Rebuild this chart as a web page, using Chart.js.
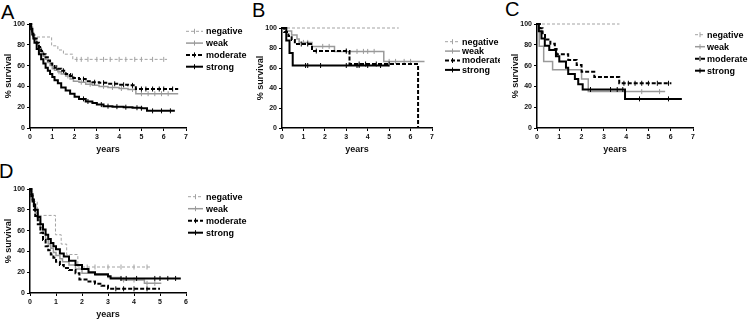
<!DOCTYPE html>
<html>
<head>
<meta charset="utf-8">
<script src="https://cdn.jsdelivr.net/npm/chart.js@4.4.1/dist/chart.umd.min.js"></script>
<style>
  html, body { margin: 0; padding: 0; background: #fff; overflow: hidden; }
  body { width: 751px; height: 319px; position: relative; }
  canvas { position: absolute; }
  .tag { position: absolute; font: 20px "Liberation Sans", Arial, sans-serif; color: #000; line-height: normal; }
</style>
</head>
<body>
<div class="tag" style="left:1px;top:1px">A</div>
<div class="tag" style="left:252px;top:-1px">B</div>
<div class="tag" style="left:505px;top:-2px">C</div>
<div class="tag" style="left:-1px;top:160px">D</div>
<canvas id="chartA" style="left:0px;top:0px" width="250" height="160"></canvas>
<canvas id="chartB" style="left:252px;top:0px" width="248" height="160"></canvas>
<canvas id="chartC" style="left:507px;top:0px" width="244" height="160"></canvas>
<canvas id="chartD" style="left:0px;top:160px" width="250" height="163"></canvas>
<script>
// groups, same order in every panel
const labels = ['negative', 'weak', 'moderate', 'strong'];

// Kaplan-Meier steps: [years, % survival]
// panel A
const A_negative = [[0,100],[0.12,87.5],[0.97,79],[1.25,75],[1.5,71],[1.92,66],[6.15,66]];
const A_weak = [[0,100],[0.05,96],[0.1,92],[0.15,88],[0.2,85],[0.3,81],[0.4,77],[0.5,73],[0.6,69],[0.7,66],[0.8,63],[0.9,60],[1.0,57],[1.1,55.5],[1.25,54],[1.4,52],[1.6,50],[1.8,47],[1.95,45],[2.2,44],[2.5,42],[2.8,41],[3.1,40],[3.5,39],[4.0,38],[4.4,37],[4.75,33],[6.65,33]];
const A_moderate = [[0,100],[0.05,97],[0.1,93],[0.15,89],[0.2,86],[0.3,82],[0.4,78],[0.5,74],[0.6,71],[0.7,68],[0.8,65],[0.9,62],[1.0,59.5],[1.1,58],[1.25,57],[1.4,55],[1.6,52],[1.8,50],[1.95,48],[2.2,47],[2.5,45],[2.8,44],[3.1,43.5],[3.5,42.5],[4.0,41.5],[4.4,41],[4.75,37.5],[6.65,37.5]];
const A_strong = [[0,100],[0.05,95],[0.1,90],[0.15,86],[0.2,82],[0.3,76],[0.4,71],[0.5,66],[0.6,62],[0.7,58],[0.8,55],[0.9,52],[1.0,49],[1.1,46],[1.25,43],[1.4,39],[1.6,36],[1.8,33],[2.0,30],[2.2,28],[2.5,25.5],[2.8,24],[3.0,22.5],[3.3,21],[3.7,20.5],[4.2,20],[4.6,19.5],[5.0,19],[5.25,16.5],[6.5,16.5]];
// censored times
const A_negative_cens = [2.1,2.3,2.6,3.0,3.3,3.6,4.0,4.3,4.7,5.0,5.5,6.0];
const A_weak_cens = [1.3,1.7,2.3,2.7,3.3,3.7,4.1,4.6,5.0,5.3,5.6,5.9,6.2];
const A_moderate_cens = [1.2,1.5,1.9,2.4,2.9,3.3,3.8,4.2,4.6,5.0,5.2,5.5,5.8,6.0,6.4];
const A_strong_cens = [2.4,2.6,3.2,3.5,3.9,4.3,4.8,5.0,5.5,5.9,6.3];

// panel B
const B_negative = [[0,100],[5.45,100]];
const B_weak = [[0,100],[0.2,97],[0.45,93],[0.7,89],[0.8,85.6],[1.4,81.6],[2.45,76.6],[4.75,66.6],[6.65,66.6]];
const B_moderate = [[0,100],[0.1,96],[0.3,92],[0.45,88],[0.6,84],[1.4,77],[3.15,64],[6.35,0]];
const B_strong = [[0,100],[0.2,87.5],[0.35,75],[0.5,62.5],[5.0,62.5]];
const B_negative_cens = [];
const B_weak_cens = [1.0,1.2,1.9,2.2,3.0,3.5,3.8,4.0,4.3,5.0,5.3,5.7,6.0];
const B_moderate_cens = [0.9,1.2,1.6,3.0,3.6,3.9,4.4,5.0];
const B_strong_cens = [1.1,1.2,1.8,3.0,3.5,3.6,4.0,4.6];

// panel C
const C_negative = [[0,100],[3.7,100]];
const C_weak = [[0,100],[0.1,78.5],[0.3,64],[0.7,56],[2.0,47],[2.3,35],[5.75,35]];
const C_moderate = [[0,100],[0.13,96],[0.25,91],[0.36,85],[0.6,81],[0.8,76],[0.88,71],[1.4,65.5],[1.78,60.5],[2.0,54],[2.57,49],[3.69,43],[6.03,43]];
const C_strong = [[0,100],[0.08,93],[0.2,86],[0.35,79],[0.55,75],[0.85,69],[1.0,64],[1.3,58],[1.4,52],[1.7,47],[1.85,42],[2.05,37],[3.95,28],[6.5,28]];
const C_negative_cens = [];
const C_weak_cens = [4.7,5.5];
const C_moderate_cens = [3.9,4.1,4.4,4.7,5.0,5.4,5.9];
const C_strong_cens = [2.4,3.3,3.6,3.85,4.6,5.9];

// panel D
const D_negative = [[0,100],[0.1,88],[0.28,74.6],[0.98,56],[1.2,47],[1.41,37],[1.84,25],[4.69,25]];
const D_weak = [[0,100],[0.05,94],[0.1,88],[0.15,82],[0.2,77],[0.3,70],[0.4,63],[0.5,57],[0.6,52],[0.7,47],[0.8,43],[0.9,39],[1.0,36],[1.15,33],[1.25,30],[1.5,27],[1.75,23],[2.0,19],[2.5,17],[3.0,15],[3.5,12.5],[4.4,9.3],[5.05,9.3]];
const D_moderate = [[0,100],[0.05,93],[0.1,86],[0.15,80],[0.2,74],[0.3,66],[0.4,58],[0.5,51],[0.6,45],[0.7,41],[0.8,37],[0.9,34],[1.0,30],[1.15,27],[1.3,24],[1.5,22],[1.75,19],[1.9,13],[2.25,11],[2.5,9],[2.75,7],[3.0,4],[5.0,4]];
const D_strong = [[0,100],[0.05,95],[0.1,90],[0.15,85],[0.2,80],[0.3,73],[0.4,66],[0.5,61],[0.6,56],[0.7,52],[0.8,48],[0.9,45],[1.0,42],[1.15,38],[1.3,35],[1.5,31],[1.75,27],[2.0,23],[2.25,20],[2.5,18],[3.0,16],[3.1,14],[5.8,14]];
const D_negative_cens = [2.2,2.5,3.0,3.5,4.0,4.5];
const D_weak_cens = [3.6,4.0,4.5,4.8];
const D_moderate_cens = [3.3,3.6,4.0,4.5];
const D_strong_cens = [3.5,3.7,4.1,4.8,5.0,5.3,5.6];

// tick values
const yTicks = [0, 20, 40, 60, 80, 100];

const FAMILY = '"Liberation Sans", Arial, sans-serif';
const colors = ['#a3a3a3', '#9a9a9a', '#000000', '#000000'];
const widths = [1, 1.5, 2, 2];
const dashes = [[3, 2], [], [4, 2], []];

// value of the step curve at time t
function survivalAt(curve, t) {
  let s = curve[0][1];
  for (const p of curve) {
    if (p[0] <= t) s = p[1];
  }
  return s;
}

// legend drawn next to the plot, like the original figure
const kmLegend = {
  id: 'kmLegend',
  afterDraw(chart, args, opts) {
    const ctx = chart.ctx;
    ctx.save();
    ctx.font = 'bold 9px ' + FAMILY;
    ctx.textBaseline = 'middle';
    labels.forEach((name, i) => {
      const y = opts.y + i * opts.dy;
      ctx.strokeStyle = colors[i];
      ctx.lineWidth = widths[i];
      ctx.setLineDash(dashes[i]);
      ctx.beginPath();
      ctx.moveTo(opts.x, y);
      ctx.lineTo(opts.x + opts.len, y);
      ctx.stroke();
      ctx.setLineDash([]);
      ctx.lineWidth = 1;
      ctx.beginPath();
      ctx.moveTo(opts.x + opts.len / 2, y - 2.5);
      ctx.lineTo(opts.x + opts.len / 2, y + 2.5);
      ctx.stroke();
      ctx.fillStyle = '#000';
      ctx.fillText(name, opts.textX, y + 0.5);
    });
    ctx.restore();
  }
};

function makePanel(id, curves, cens, xMax, pad, leg) {
  const datasets = [];
  curves.forEach((c, i) => {
    datasets.push({
      type: 'line',
      label: labels[i],
      data: c.map(p => ({ x: p[0], y: p[1] })),
      stepped: true,
      borderColor: colors[i],
      borderWidth: widths[i],
      borderDash: dashes[i],
      pointRadius: 0,
      fill: false,
      clip: false,
      order: 3 - i
    });
  });
  cens.forEach((ts, i) => {
    datasets.push({
      type: 'scatter',
      data: ts.map(t => ({ x: t, y: survivalAt(curves[i], t) })),
      pointStyle: 'line',
      pointRotation: 90,
      pointRadius: 2.5,
      pointBorderColor: colors[i],
      pointBorderWidth: 1,
      clip: false,
      order: 3 - i
    });
  });

  const tickFont = { family: FAMILY, size: 7, weight: 'bold' };
  const titleFont = { family: FAMILY, size: 9, weight: 'bold' };

  new Chart(document.getElementById(id), {
    data: { datasets },
    options: {
      responsive: false,
      animation: false,
      events: [],
      layout: { padding: pad },
      plugins: {
        legend: { display: false },
        tooltip: { enabled: false },
        kmLegend: leg
      },
      scales: {
        x: {
          type: 'linear',
          min: 0,
          max: xMax,
          ticks: { stepSize: 1, font: tickFont, color: '#111', padding: 2 },
          grid: { drawOnChartArea: false, tickLength: 3, color: '#000', lineWidth: 1 },
          border: { color: '#000', width: 1.5 },
          title: { display: true, text: 'years', font: titleFont, color: '#111', padding: { top: 0, bottom: 3 } },
          afterFit: s => { s.height = 30; }
        },
        y: {
          type: 'linear',
          min: 0,
          max: 100,
          afterBuildTicks: s => { s.ticks = yTicks.map(v => ({ value: v })); },
          ticks: { font: tickFont, color: '#111', padding: 2 },
          grid: { drawOnChartArea: false, tickLength: 3, color: '#000', lineWidth: 1 },
          border: { color: '#000', width: 1.5 },
          title: { display: true, text: '% survival', font: titleFont, color: '#111', padding: { top: 3, bottom: 0 } },
          afterFit: s => { s.width = 30; }
        }
      }
    },
    plugins: [kmLegend]
  });
}

makePanel('chartA',
  [A_negative, A_weak, A_moderate, A_strong],
  [A_negative_cens, A_weak_cens, A_moderate_cens, A_strong_cens],
  7, { left: 0, top: 24, right: 64, bottom: 2 },
  { x: 186, len: 17, textX: 206, y: 31.3, dy: 11.8 });

makePanel('chartB',
  [B_negative, B_weak, B_moderate, B_strong],
  [B_negative_cens, B_weak_cens, B_moderate_cens, B_strong_cens],
  7, { left: 0, top: 28, right: 68, bottom: 2 },
  { x: 193, len: 15, textX: 210, y: 41.7, dy: 9.4 });

makePanel('chartC',
  [C_negative, C_weak, C_moderate, C_strong],
  [C_negative_cens, C_weak_cens, C_moderate_cens, C_strong_cens],
  7, { left: 0, top: 24, right: 58, bottom: 2 },
  { x: 188, len: 10, textX: 200, y: 34.7, dy: 12 });

makePanel('chartD',
  [D_negative, D_weak, D_moderate, D_strong],
  [D_negative_cens, D_weak_cens, D_moderate_cens, D_strong_cens],
  6, { left: 0, top: 29, right: 64, bottom: 0 },
  { x: 188, len: 15, textX: 206, y: 36.7, dy: 12 });
</script>
</body>
</html>
